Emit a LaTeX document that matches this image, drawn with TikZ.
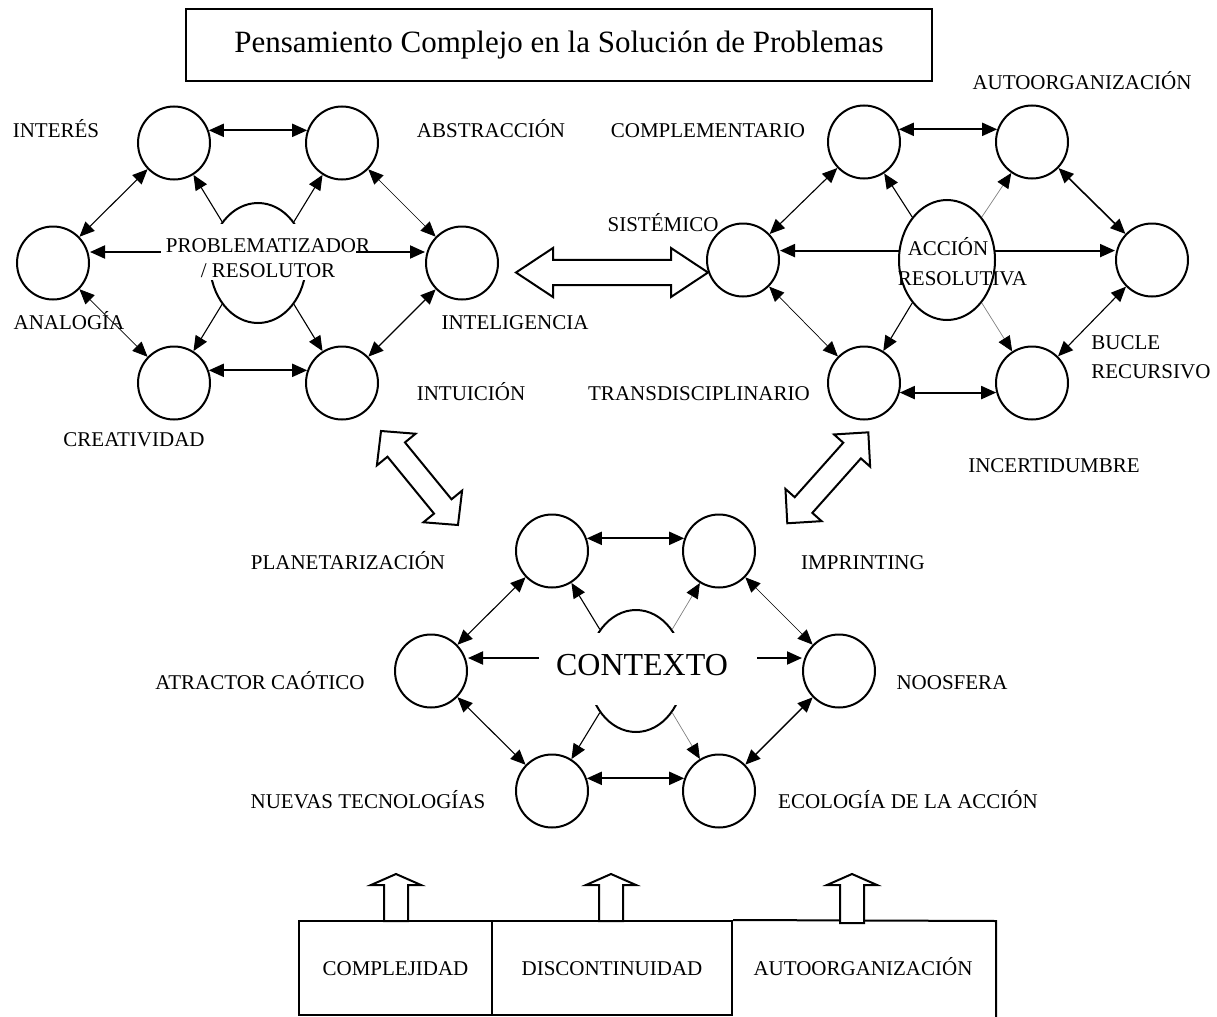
\documentclass[tikz,border=0pt]{standalone}
\usepackage{fontspec}
\setmainfont{Liberation Serif}
\usetikzlibrary{arrows.meta,shapes.geometric}

\tikzset{
    >={Triangle[length=7.5pt,width=6.5pt,black]},
    circulo/.style={draw, ellipse, line width=1pt, minimum width=36pt, minimum height=36.5pt, inner sep=0pt},
    nucleo/.style={draw, ellipse, line width=1pt, minimum width=48pt, minimum height=60pt, inner sep=0pt},
    rotulo/.style={font=\fontsize{10.5}{12.5}\selectfont, inner sep=0pt, text height=7pt, text depth=0pt},
    gruesa/.style={line width=1pt},
    media/.style={line width=0.55pt},
    delgada/.style={line width=0.35pt},
    fina/.style={line width=0.35pt, black!50},
    tapa/.style={fill=white, inner sep=0pt},
    bloque/.style={draw, fill=white, line width=1pt, line join=miter},
    caja/.style={draw, line width=1pt, minimum height=47pt, inner sep=0pt, text height=7pt, text depth=0pt,
                 font=\fontsize{10.5}{12.5}\selectfont},
}

\begin{document}
\begin{tikzpicture}[x=0.5pt, y=-0.5pt]
    \useasboundingbox (0,0) rectangle (1217,1017);

    \node[draw, line width=1pt, minimum width=373pt, minimum height=36pt, inner sep=0pt,
          font=\fontsize{15.5}{18}\selectfont] (titulo) at (559,45) {Pensamiento Complejo en la Solución de Problemas};

    \node[circulo] (A1) at (174,143) {};
    \node[circulo] (A2) at (342,143) {};
    \node[circulo] (A3) at (53,263) {};
    \node[circulo] (A4) at (462,263) {};
    \node[circulo] (A5) at (174,383) {};
    \node[circulo] (A6) at (342,383) {};
    \node[nucleo] (P) at (258,263) {};
    \node[tapa, minimum width=97.5pt, minimum height=28pt] (cajaP) at (258.5,252) {};
    \node[align=center, inner sep=0pt, font=\fontsize{10.5}{12.5}\selectfont] (textoP) at (268,258) {PROBLEMATIZADOR\\/ RESOLUTOR};

    \draw[gruesa, <->] (A1.20) -- (A2.160);
    \draw[gruesa, <->] (A5.20) -- (A6.160);
    \draw[media, <->] (A1) -- (A3);
    \draw[delgada, <->] (A2) -- (A4);
    \draw[delgada, <->] (A3) -- (A5);
    \draw[media, <->] (A4) -- (A6);
    \draw[media, ->] (P.131) -- (A1);
    \draw[media, ->] (P.49) -- (A2);
    \draw[media, ->] (P.229) -- (A5);
    \draw[media, ->] (P.311) -- (A6);
    \draw[gruesa, ->] (cajaP.west) -- (cajaP.west -| A3.east);
    \draw[gruesa, ->] (cajaP.east) -- (cajaP.east -| A4.west);

    \node[circulo] (B1) at (864,142) {};
    \node[circulo] (B2) at (1032,142) {};
    \node[circulo] (B3) at (743,260) {};
    \node[circulo] (B4) at (1152,260) {};
    \node[circulo] (B5) at (864,383) {};
    \node[circulo] (B6) at (1032,383) {};
    \node[nucleo] (Q) at (947,260) {};
    \node[align=center, inner sep=0pt, font=\fontsize{10.5}{15}\selectfont] (textoQ) at (948,262) {ACCIÓN\\\hspace*{14.5pt}RESOLUTIVA};

    \draw[gruesa, <->] (B1.20) -- (B2.160);
    \draw[gruesa, <->] (B5.-15) -- (B6.195);
    \draw[media, <->] (B1) -- (B3);
    \draw[line width=0.8pt, <->] (B2) -- (B4);
    \draw[delgada, <->] (B3) -- (B5);
    \draw[media, <->] (B4) -- (B6);
    \draw[media, ->] (Q.129) -- (B1);
    \draw[fina, ->] (Q.51) -- (B2);
    \draw[media, ->] (Q.231) -- (B5);
    \draw[fina, ->] (Q.309) -- (B6);
    \draw[gruesa, ->] (Q.169) -- (Q.169 -| B3.east);
    \draw[gruesa, ->] (Q.11) -- (Q.11 -| B4.west);

    \node[circulo] (C1) at (552,551) {};
    \node[circulo] (C2) at (719,551) {};
    \node[circulo] (C3) at (431,671) {};
    \node[circulo] (C4) at (839,671) {};
    \node[circulo] (C5) at (552,791) {};
    \node[circulo] (C6) at (719,791) {};
    \node[nucleo, minimum height=61pt] (R) at (636,671) {};
    \node[tapa, minimum width=109pt, minimum height=36pt] (cajaC) at (648,669) {};
    \node[inner sep=0pt, font=\fontsize{16}{19}\selectfont] (textoC) at (642,665) {CONTEXTO};

    \draw[gruesa, <->] (C1.20) -- (C2.160);
    \draw[gruesa, <->] (C5.20) -- (C6.160);
    \draw[media, <->] (C1) -- (C3);
    \draw[delgada, <->] (C2) -- (C4);
    \draw[media, <->] (C3) -- (C5);
    \draw[line width=0.7pt, <->] (C4) -- (C6);
    \draw[media, ->] (R.131) -- (C1);
    \draw[fina, ->] (R.49) -- (C2);
    \draw[media, ->] (R.229) -- (C5);
    \draw[fina, ->] (R.311) -- (C6);
    \draw[gruesa, ->] ([yshift=5.5pt]cajaC.west) -- ([yshift=5.5pt]cajaC.west -| C3.east);
    \draw[gruesa, ->] ([yshift=5.5pt]cajaC.east) -- ([yshift=5.5pt]cajaC.east -| C4.west);

    \foreach \pos/\texto [count=\i] in {{56,130}/INTERÉS, {491,130}/ABSTRACCIÓN, {69,322}/ANALOGÍA,
            {515,322}/INTELIGENCIA, {134,439}/CREATIVIDAD, {471,393}/INTUICIÓN,
            {1082,82}/AUTOORGANIZACIÓN, {708,130}/COMPLEMENTARIO, {663,224}/SISTÉMICO,
            {699,393}/TRANSDISCIPLINARIO, {1054,465}/INCERTIDUMBRE,
            {348,562}/PLANETARIZACIÓN, {863,562}/IMPRINTING, {260,682}/ATRACTOR CAÓTICO,
            {952,682}/NOOSFERA, {368,801}/NUEVAS TECNOLOGÍAS, {908,801}/ECOLOGÍA DE LA ACCIÓN} {
        \node[rotulo] (rotulo\i) at (\pos) {\texto};
    }
    \node[align=left, anchor=west, inner sep=0pt, font=\fontsize{10.5}{14.4}\selectfont] (bucle) at (1091,357) {BUCLE\\RECURSIVO};

    \draw[bloque] (516,272.5) -- (553,248) -- (553,259.8) -- (671,259.8) -- (671,248) -- (708,272.5)
        -- (671,297) -- (671,285.2) -- (553,285.2) -- (553,297) -- cycle;
    \begin{scope}[shift={(419.5,478)}, rotate=-50.7]
        \draw[bloque] (-60.75,0) -- (-36.75,-25) -- (-36.75,-11.3) -- (36.75,-11.3) -- (36.75,-25) -- (60.75,0)
            -- (36.75,25) -- (36.75,11.3) -- (-36.75,11.3) -- (-36.75,25) -- cycle;
    \end{scope}
    \begin{scope}[shift={(827.8,477.8)}, rotate=48.3]
        \draw[bloque] (-60.9,0) -- (-36.5,-24.2) -- (-36.5,-11.8) -- (36.5,-11.8) -- (36.5,-24.2) -- (60.9,0)
            -- (36.5,24.2) -- (36.5,11.8) -- (-36.5,11.8) -- (-36.5,24.2) -- cycle;
    \end{scope}

    \node[caja, minimum width=96.5pt] (complejidad) at (395.5,968) {COMPLEJIDAD};
    \node[caja, minimum width=120pt] (discontinuidad) at (612,968) {DISCONTINUIDAD};
    \draw[line width=1pt] (discontinuidad.north east) -- (996,921) -- (996,1017);
    \node[rotulo] (autoorganizacion) at (863,968) {AUTOORGANIZACIÓN};

    \foreach \x/\y in {396/921, 611/921, 852/923} {
        \draw[bloque] (\x,874) -- (\x+25,885) -- (\x+12,885) -- (\x+12,\y) -- (\x-12,\y) -- (\x-12,885) -- (\x-25,885) -- cycle;
    }
\end{tikzpicture}
\end{document}
